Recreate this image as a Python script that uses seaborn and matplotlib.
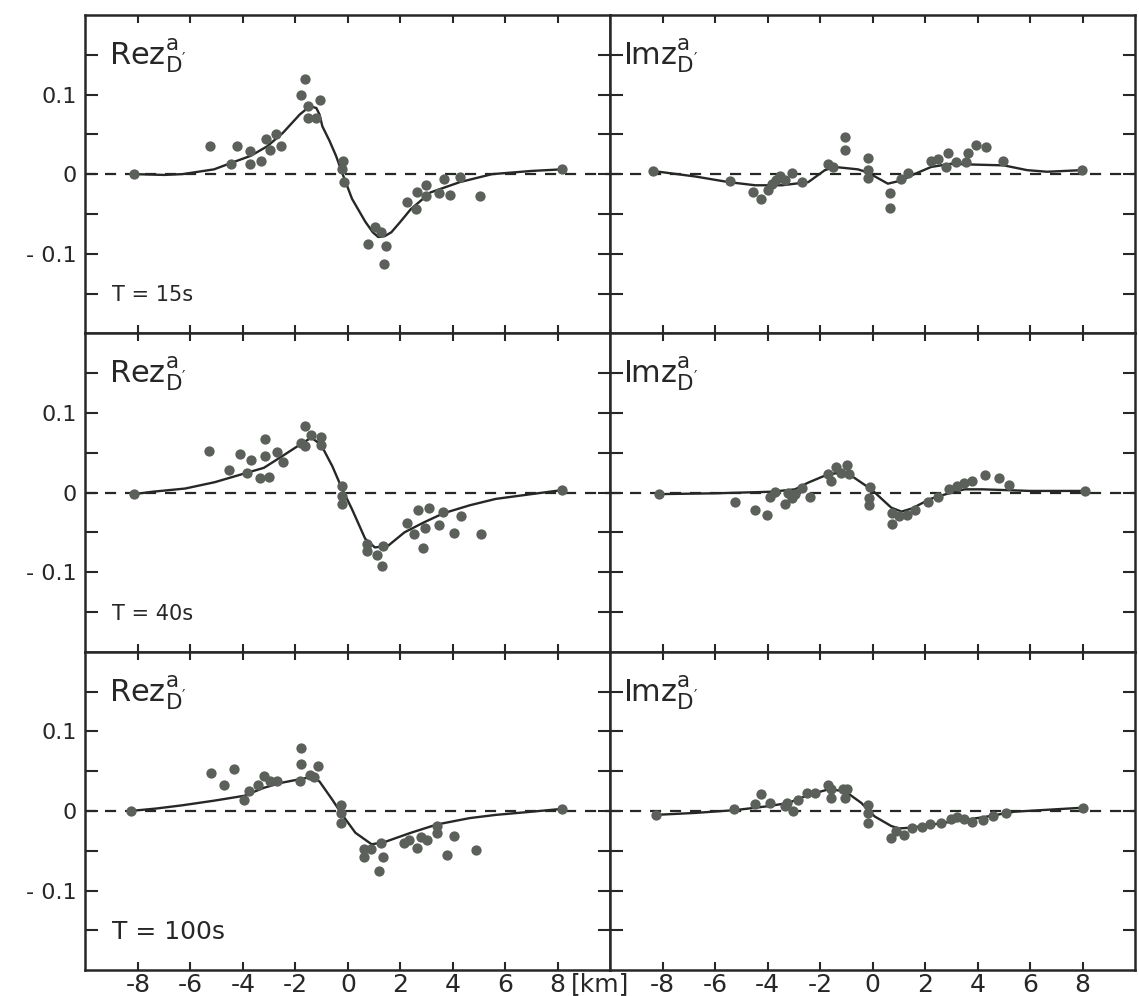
import matplotlib
matplotlib.use("Agg")
import matplotlib.pyplot as plt
import seaborn as sns

# distance along profile (km) and transfer function values
re15_line_x = [-8.15, -7.0, -6.3, -5.1, -4.45, -3.7, -3.07, -2.47, -1.83, -1.57, -1.39, -1.2, -1.08, -0.97,
               -0.7, -0.45, -0.22, 0.16, 0.67, 0.95, 1.16, 1.4, 1.66, 2.0, 2.4, 3.15, 4.27, 5.5, 7.0, 8.15]
re15_line_y = [0.0, -0.001, 0.0, 0.006, 0.014, 0.023, 0.035, 0.052, 0.075, 0.082, 0.085, 0.083, 0.075, 0.06,
               0.042, 0.023, 0.002, -0.031, -0.06, -0.073, -0.079, -0.078, -0.073, -0.06, -0.044, -0.023, -0.01, 0.0, 0.004, 0.006]
re15_pts_x = [-8.15, -5.26, -4.45, -4.22, -3.73, -3.73, -3.3, -3.1, -2.98, -2.73, -2.54, -1.77, -1.64, -1.52, -1.5,
              -1.21, -1.05, -0.17, -0.21, -0.15, 0.75, 1.03, 1.28, 1.37, 1.45, 2.24, 2.6, 2.65, 2.97, 2.97,
              3.46, 3.65, 3.88, 4.27, 5.02, 8.15]
re15_pts_y = [0.0, 0.035, 0.0125, 0.035, 0.029, 0.0125, 0.017, 0.044, 0.03, 0.051, 0.035, 0.1, 0.12, 0.071, 0.085,
              0.071, 0.093, 0.017, 0.006, -0.01, -0.088, -0.067, -0.073, -0.113, -0.09, -0.035, -0.044, -0.022, -0.014, -0.027,
              -0.024, -0.006, -0.026, -0.003, -0.028, 0.006]

im15_line_x = [-8.38, -6.75, -5.49, -4.47, -3.46, -2.45, -1.82, -1.44, -0.56, -0.18, 0.58, 1.09, 1.59, 2.23,
               2.98, 3.87, 5.0, 5.89, 6.65, 7.97]
im15_line_y = [0.004, -0.003, -0.01, -0.014, -0.014, -0.01, 0.005, 0.009, 0.006, 0.002, -0.012, -0.008, 0.0, 0.009,
               0.013, 0.012, 0.011, 0.005, 0.003, 0.005]
im15_pts_x = [-8.38, -5.42, -4.54, -4.26, -3.97, -3.84, -3.7, -3.53, -3.35, -3.08, -2.7, -1.69, -1.5, -1.04, -1.04,
              -0.18, -0.18, -0.18, 0.66, 0.66, 1.09, 1.34, 2.23, 2.48, 2.8, 2.86, 3.17, 3.55, 3.62, 3.93,
              4.34, 4.98, 7.97]
im15_pts_y = [0.004, -0.009, -0.022, -0.031, -0.02, -0.012, -0.007, -0.002, -0.007, 0.002, -0.01, 0.013, 0.009, 0.047, 0.03,
              0.02, 0.005, -0.005, -0.024, -0.042, -0.006, 0.002, 0.017, 0.019, 0.009, 0.026, 0.015, 0.015, 0.026, 0.037,
              0.034, 0.017, 0.005]

re40_line_x = [-8.15, -7.44, -6.2, -5.07, -3.83, -3.2, -2.58, -1.83, -1.39, -1.02, -0.59, -0.21, 0.16, 0.66,
               1.03, 1.53, 2.16, 2.9, 3.65, 4.65, 5.64, 7.0, 8.15]
re40_line_y = [-0.002, 0.001, 0.005, 0.013, 0.025, 0.031, 0.044, 0.06, 0.069, 0.06, 0.033, 0.004, -0.021, -0.058,
               -0.069, -0.067, -0.05, -0.0375, -0.026, -0.016, -0.008, -0.002, 0.003]
re40_pts_x = [-8.15, -5.28, -4.51, -4.1, -3.83, -3.7, -3.35, -3.14, -3.14, -3.02, -2.7, -2.46, -1.77, -1.64, -1.64,
              -1.39, -1.02, -1.02, -0.21, -0.21, -0.21, 0.72, 0.72, 1.13, 1.32, 1.35, 2.26, 2.53, 2.69, 2.88,
              2.94, 3.09, 3.46, 3.61, 4.03, 4.3, 5.08, 8.15]
re40_pts_y = [-0.002, 0.052, 0.028, 0.049, 0.025, 0.041, 0.018, 0.067, 0.046, 0.019, 0.051, 0.038, 0.062, 0.084, 0.058,
              0.072, 0.07, 0.06, 0.008, -0.004, -0.015, -0.065, -0.073, -0.078, -0.092, -0.067, -0.038, -0.052, -0.022, -0.07,
              -0.044, -0.02, -0.041, -0.025, -0.051, -0.03, -0.052, 0.003]

im40_line_x = [-8.14, -6.0, -3.84, -2.96, -2.45, -1.69, -1.19, -0.81, -0.05, 0.71, 1.1, 1.5, 2.2, 3.0,
               3.5, 4.2, 6.0, 8.1]
im40_line_y = [-0.002, -0.001, 0.001, 0.004, 0.0125, 0.023, 0.025, 0.021, 0.004, -0.019, -0.024, -0.02, -0.008, 0.0,
               0.004, 0.004, 0.002, 0.002]
im40_pts_x = [-8.14, -5.26, -4.5, -4.03, -3.9, -3.72, -3.34, -3.21, -3.06, -2.96, -2.7, -2.39, -1.69, -1.57, -1.38,
              -1.21, -0.97, -0.9, -0.11, -0.15, -0.15, 0.75, 0.75, 1.0, 1.3, 1.6, 2.1, 2.5, 2.9, 3.2,
              3.5, 3.8, 4.3, 4.8, 5.2, 8.1]
im40_pts_y = [-0.002, -0.012, -0.022, -0.028, -0.005, 0.001, -0.015, -0.001, -0.007, -0.002, 0.006, -0.005, 0.023, 0.015, 0.032,
              0.025, 0.035, 0.023, 0.007, -0.016, -0.007, -0.026, -0.04, -0.03, -0.028, -0.022, -0.012, -0.006, 0.004, 0.008,
              0.012, 0.014, 0.022, 0.018, 0.01, 0.002]

re100_line_x = [-8.26, -7.3, -6.32, -5.07, -3.95, -3.2, -2.58, -1.96, -1.39, -1.08, -0.59, -0.21, 0.29, 0.91,
                1.41, 2.4, 3.4, 4.65, 5.64, 7.0, 8.15]
re100_line_y = [0.0, 0.003, 0.007, 0.013, 0.019, 0.029, 0.035, 0.039, 0.0425, 0.037, 0.014, -0.005, -0.0275, -0.042,
                -0.039, -0.0275, -0.017, -0.009, -0.005, -0.001, 0.0025]
re100_pts_x = [-8.26, -5.22, -4.7, -4.33, -3.95, -3.76, -3.43, -3.2, -2.95, -2.7, -1.83, -1.77, -1.77, -1.46, -1.27,
               -1.15, -0.27, -0.27, -0.27, 0.6, 0.6, 0.88, 1.2, 1.26, 1.35, 2.16, 2.34, 2.65, 2.78, 3.0,
               3.38, 3.4, 3.78, 4.05, 4.87, 8.15]
re100_pts_y = [0.0, 0.0475, 0.033, 0.0525, 0.014, 0.025, 0.033, 0.044, 0.037, 0.037, 0.037, 0.079, 0.059, 0.045, 0.043,
               0.057, 0.008, -0.0025, -0.015, -0.048, -0.0575, -0.048, -0.076, -0.04, -0.0575, -0.04, -0.036, -0.047, -0.0325, -0.037,
               -0.0275, -0.019, -0.055, -0.032, -0.049, 0.0025]

im100_line_x = [-8.27, -6.75, -5.23, -3.97, -3.21, -2.45, -1.69, -1.06, -0.43, 0.08, 0.71, 1.0, 1.5, 2.7,
                4.2, 5.4, 8.0]
im100_line_y = [-0.005, -0.0025, 0.001, 0.006, 0.01, 0.02, 0.027, 0.025, 0.01, -0.007, -0.019, -0.022, -0.021, -0.015,
                -0.008, -0.001, 0.004]
im100_pts_x = [-8.27, -5.3, -4.47, -4.26, -3.9, -3.34, -3.27, -3.02, -2.83, -2.51, -2.2, -1.69, -1.57, -1.57, -1.12,
               -1.06, -0.96, -0.18, -0.18, -0.18, 0.71, 0.9, 1.2, 1.5, 1.9, 2.2, 2.6, 3.0, 3.2, 3.5,
               3.8, 4.2, 4.6, 5.1, 8.0]
im100_pts_y = [-0.005, 0.003, 0.009, 0.021, 0.01, 0.006, 0.01, 0.0, 0.014, 0.0225, 0.0225, 0.032, 0.016, 0.027, 0.027,
               0.016, 0.027, 0.008, -0.0025, -0.015, -0.034, -0.025, -0.03, -0.022, -0.02, -0.017, -0.015, -0.01, -0.008, -0.01,
               -0.014, -0.012, -0.006, -0.002, 0.004]

periods = ["T = 15s", "T = 40s", "T = 100s"]
x_ticks = [-8, -6, -4, -2, 0, 2, 4, 6, 8]
x_ticklabels = ["-8", "-6", "-4", "-2", "0", "2", "4", "6", "8"]
y_ticks = [-0.15, -0.1, -0.05, 0, 0.05, 0.1, 0.15]
y_ticklabels = ["", "- 0.1", "", "0", "", "0.1", ""]

panels = [
    [(re15_line_x, re15_line_y, re15_pts_x, re15_pts_y), (im15_line_x, im15_line_y, im15_pts_x, im15_pts_y)],
    [(re40_line_x, re40_line_y, re40_pts_x, re40_pts_y), (im40_line_x, im40_line_y, im40_pts_x, im40_pts_y)],
    [(re100_line_x, re100_line_y, re100_pts_x, re100_pts_y), (im100_line_x, im100_line_y, im100_pts_x, im100_pts_y)],
]

sns.set_style("white")
plt.rcParams["font.family"] = ["DejaVu Sans"]
plt.rcParams["mathtext.default"] = "regular"

ink = "#262826"
dot = "#5b605b"

fig, axes = plt.subplots(3, 2, figsize=(11.39, 9.96), dpi=100, sharex=True, sharey=True,
                         gridspec_kw=dict(wspace=0, hspace=0))
fig.subplots_adjust(left=0.075, right=0.9965, top=0.985, bottom=0.026)

for r in range(3):
    for c in range(2):
        ax = axes[r, c]
        lx, ly, px, py = panels[r][c]
        ax.axhline(0, color=ink, lw=1.6, ls=(0, (5, 4)), zorder=1)
        sns.lineplot(x=lx, y=ly, ax=ax, color=ink, lw=1.7, sort=False, estimator=None, zorder=3)
        sns.scatterplot(x=px, y=py, ax=ax, color=dot, s=55, linewidth=0, zorder=4)
        ax.set_xlim(-10, 10)
        ax.set_ylim(-0.2, 0.2)
        for sp in ax.spines.values():
            sp.set_color(ink)
            sp.set_linewidth(1.8)
        ax.set_xticks(x_ticks)
        ax.set_yticks(y_ticks)
        ax.tick_params(axis="both", direction="in", top=True, bottom=True, left=True, right=True,
                       color=ink, width=1.5)
        ax.tick_params(axis="x", length=6, pad=2, labelsize=18, labelcolor=ink)
        ax.tick_params(axis="y", length=9, pad=6, labelsize=16, labelcolor=ink)
        ax.set_xticklabels(x_ticklabels)
        ax.set_yticklabels(y_ticklabels)
        ax.set_xlabel("")
        ax.set_ylabel("")
        name = "Rez" if c == 0 else "Imz"
        tx = 0.045 if c == 0 else 0.025
        ax.text(tx, 0.87, name + r"$^{a}_{D'}$", transform=ax.transAxes, fontsize=22,
                color=ink, va="center", ha="left")
        if c == 0:
            ax.text(0.05, 0.12, periods[r], transform=ax.transAxes, fontsize=15 if r < 2 else 18,
                    color=ink, va="center", ha="left")

axes[2, 0].text(8.5, -0.007, "[km]", transform=axes[2, 0].get_xaxis_transform(),
                fontsize=18, color=ink, ha="left", va="top")

fig.savefig("out.png", dpi=100, facecolor="white")
